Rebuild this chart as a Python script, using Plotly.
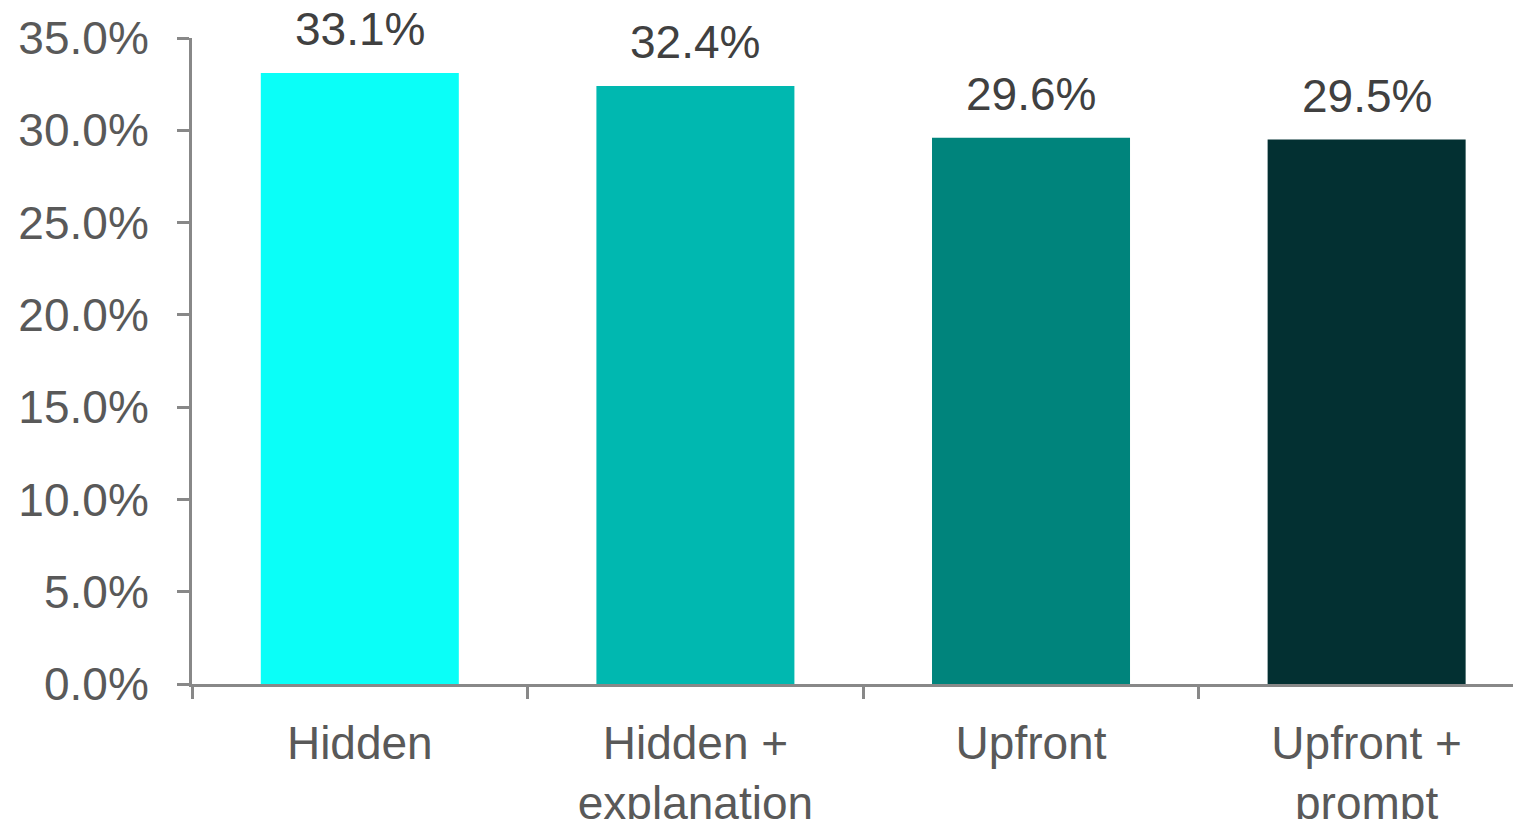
import plotly.graph_objects as go

categories = ["Hidden", "Hidden +<br>explanation", "Upfront", "Upfront +<br>prompt"]
values = [33.1, 32.4, 29.6, 29.5]
labels = ["33.1%", "32.4%", "29.6%", "29.5%"]
colors = ["#0AFFF8", "#00B8B0", "#00847C", "#033032"]

fig = go.Figure(go.Bar(
    x=categories, y=values,
    marker=dict(color=colors, line=dict(width=0)),
    cliponaxis=False,
))

for c, v, t in zip(categories, values, labels):
    fig.add_annotation(x=c, y=v, text=t, showarrow=False, yanchor="middle", yshift=44,
                       font=dict(size=46, color="#404040", family="Liberation Sans"))

axis_col = "#888888"
fig.update_layout(
    width=1513, height=811,
    margin=dict(l=184, r=0, t=30, b=135),
    plot_bgcolor="white", paper_bgcolor="white",
    bargap=0.41,
    showlegend=False,
    font=dict(family="Liberation Sans", size=46, color="#595959"),
    xaxis=dict(
        range=[-0.5, 3.46],
        showline=True, linecolor=axis_col, linewidth=3, automargin=False,
        ticks="outside", tickson="boundaries", ticklen=12, tickwidth=3, tickcolor=axis_col,
        showgrid=False, tickfont=dict(size=46, color="#595959"),
        ticklabelstandoff=17,
    ),
    yaxis=dict(
        range=[0, 35], dtick=5, tickformat=".1f", ticksuffix="%", automargin=False,
        showline=True, linecolor=axis_col, linewidth=3,
        ticks="outside", ticklen=12, tickwidth=3, tickcolor=axis_col,
        showgrid=False, zeroline=False, tickfont=dict(size=46, color="#595959"),
        ticklabelstandoff=19,
    ),
)

fig.write_html("out.html")
